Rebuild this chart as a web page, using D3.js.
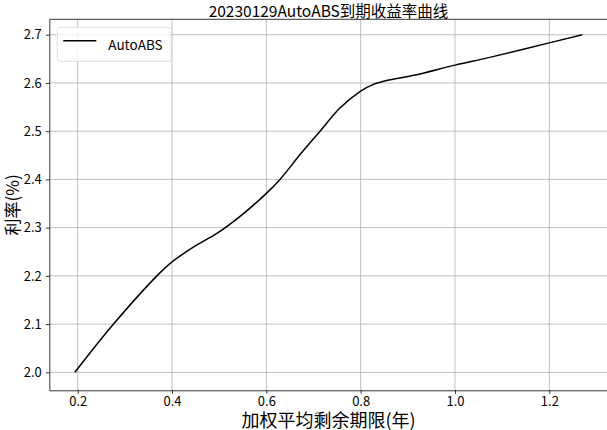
<!DOCTYPE html>
<html>
<head>
<meta charset="utf-8">
<title>AutoABS yield curve</title>
<script src="https://d3js.org/d3.v7.min.js"></script>
<style>
  body { margin: 0; background: #ffffff; }
  svg { display: block; }
  text { font-family: "Noto Sans CJK SC", "DejaVu Sans", sans-serif; fill: #000; }
  .grid line { stroke: #b0b0b0; stroke-width: 0.8; }
  .axis path, .axis line { stroke: #000; stroke-width: 0.8; }
  .axis text { font-size: 13px; }
</style>
</head>
<body>
<div id="chart"></div>
<script>
// values
var term = [0.194, 0.276, 0.368, 0.40, 0.446, 0.495, 0.545, 0.60, 0.629, 0.672,
            0.714, 0.756, 0.80, 0.827, 0.855, 0.913, 1.0, 1.069, 1.145, 1.27];
var rate = [2.000, 2.100, 2.200, 2.229, 2.260, 2.288, 2.324, 2.371, 2.400, 2.452,
            2.500, 2.548, 2.583, 2.597, 2.605, 2.616, 2.637, 2.652, 2.670, 2.700];
var xTicks = [0.2, 0.4, 0.6, 0.8, 1.0, 1.2];
var yTicks = [2.0, 2.1, 2.2, 2.3, 2.4, 2.5, 2.6, 2.7];
var seriesName = "AutoABS";
var titleText = "20230129AutoABS到期收益率曲线";
var xLabel = "加权平均剩余期限(年)";
var yLabel = "利率(%)";

var W = 607, H = 430;
var m = {top: 19.3, right: -0.7, bottom: 39.7, left: 49.3};
var w = W - m.left - m.right, h = H - m.top - m.bottom;

var svg = d3.select("#chart").append("svg")
    .attr("width", W).attr("height", H);

var x = d3.scaleLinear().domain([0.1398, 1.3238]).range([0, w]);
var y = d3.scaleLinear().domain([1.9627, 2.732]).range([h, 0]);

var g = svg.append("g").attr("transform", "translate(" + m.left + "," + m.top + ")");

// grid
var grid = g.append("g").attr("class", "grid");
grid.selectAll("line.v").data(xTicks).enter().append("line").attr("class", "v")
  .attr("x1", function(d) { return x(d); }).attr("x2", function(d) { return x(d); })
  .attr("y1", 0).attr("y2", h);
grid.selectAll("line.h").data(yTicks).enter().append("line").attr("class", "h")
  .attr("x1", 0).attr("x2", w)
  .attr("y1", function(d) { return y(d); }).attr("y2", function(d) { return y(d); });

// curve
var line = d3.line()
    .x(function(d) { return x(d[0]); })
    .y(function(d) { return y(d[1]); })
    .curve(d3.curveCatmullRom.alpha(0.5));
g.append("path")
  .datum(d3.zip(term, rate))
  .attr("d", line)
  .attr("fill", "none")
  .attr("stroke", "#000")
  .attr("stroke-width", 1.5);

// axes
g.append("g").attr("class", "axis")
  .attr("transform", "translate(0," + h + ")")
  .call(d3.axisBottom(x).tickValues(xTicks).tickFormat(d3.format(".1f"))
        .tickSize(3.5).tickSizeOuter(0).tickPadding(2.5));
g.append("g").attr("class", "axis")
  .call(d3.axisLeft(y).tickValues(yTicks).tickFormat(d3.format(".1f"))
        .tickSize(3.5).tickSizeOuter(0).tickPadding(4));
// frame top / right
g.append("line").attr("x1", 0).attr("x2", w).attr("y1", 0).attr("y2", 0)
  .attr("stroke", "#000").attr("stroke-width", 0.8);
g.append("line").attr("x1", w).attr("x2", w).attr("y1", 0).attr("y2", h)
  .attr("stroke", "#000").attr("stroke-width", 0.8);

// legend
var lg = svg.append("g").attr("transform", "translate(57.3,27.3)");
lg.append("rect").attr("width", 114).attr("height", 34).attr("rx", 3.5)
  .attr("fill", "#fff").attr("fill-opacity", 0.8)
  .attr("stroke", "#d6d6d6").attr("stroke-width", 0.8);
lg.append("line").attr("x1", 6).attr("x2", 39).attr("y1", 13.5).attr("y2", 13.5)
  .attr("stroke", "#000").attr("stroke-width", 1.5);
lg.append("text").attr("x", 51).attr("y", 22.5).attr("font-size", "13.5px").text(seriesName);

// title and labels
svg.append("text").attr("x", m.left + w / 2).attr("y", 17)
  .attr("text-anchor", "middle").attr("font-size", "15.5px").text(titleText);
svg.append("text").attr("x", m.left + w / 2).attr("y", 427)
  .attr("text-anchor", "middle").attr("font-size", "18px").text(xLabel);
svg.append("text")
  .attr("transform", "translate(19," + (m.top + h / 2) + ") rotate(-90)")
  .attr("text-anchor", "middle").attr("font-size", "17px").text(yLabel);
</script>
</body>
</html>
